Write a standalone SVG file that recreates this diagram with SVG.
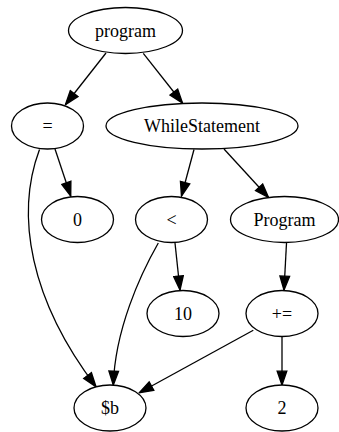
<svg xmlns="http://www.w3.org/2000/svg" width="339" height="432" viewBox="0 0 339 432">
<style>
.node ellipse{fill:#fff;stroke:#000;stroke-width:1.3}
.node text{font-family:"Liberation Serif","Times New Roman",serif;font-size:18px;fill:#000;text-anchor:middle}
.edge{fill:none;stroke:#000;stroke-width:1.3;marker-end:url(#arr)}
</style>
<defs>
<marker id="arr" markerUnits="userSpaceOnUse" markerWidth="16" markerHeight="12" viewBox="-1 -1 15 11" refX="13" refY="4.5" orient="auto">
<path d="M0,0 L13,4.5 L0,9 Z" fill="#000" stroke="#000" stroke-width="1.3" stroke-linejoin="miter"/>
</marker>
</defs>
<rect width="339" height="432" fill="#fff"/>
<g id="edges">
<path class="edge" d="M106,53 L65.5,104.5"/>
<path class="edge" d="M143.3,53.3 L182.5,103"/>
<path class="edge" d="M55,149 L70.7,196"/>
<path class="edge" d="M39.5,149.5 C15,215 30,300 96,386.7"/>
<path class="edge" d="M194,149.5 L181.5,196"/>
<path class="edge" d="M224,149 L268.5,197.5"/>
<path class="edge" d="M158.3,243 C140,275 115,330 113.3,385"/>
<path class="edge" d="M175,243 L180,290"/>
<path class="edge" d="M286.5,243 L284,290"/>
<path class="edge" d="M253.3,330.3 L139.3,392.7"/>
<path class="edge" d="M282,337 L282,385"/>
</g>
<g id="n_program" class="node"><ellipse cx="125.5" cy="30.5" rx="57" ry="23"/><text x="125.5" y="36.5">program</text></g>
<g id="n_assign" class="node"><ellipse cx="47.5" cy="126" rx="36" ry="23"/><text x="47.5" y="132">=</text></g>
<g id="n_while" class="node"><ellipse cx="202" cy="126" rx="96" ry="23"/><text x="202" y="132">WhileStatement</text></g>
<g id="n_zero" class="node"><ellipse cx="77.5" cy="219.5" rx="36" ry="23"/><text x="77.5" y="225.5">0</text></g>
<g id="n_lt" class="node"><ellipse cx="171.5" cy="219.5" rx="36" ry="23"/><text x="171.5" y="225.5">&lt;</text></g>
<g id="n_Program" class="node"><ellipse cx="284.5" cy="219.5" rx="54" ry="23"/><text x="284.5" y="225.5">Program</text></g>
<g id="n_ten" class="node"><ellipse cx="183" cy="313.5" rx="36" ry="23"/><text x="183" y="319.5">10</text></g>
<g id="n_pluseq" class="node"><ellipse cx="282" cy="313.5" rx="36" ry="23"/><text x="282" y="319.5">+=</text></g>
<g id="n_b" class="node"><ellipse cx="110" cy="408" rx="36" ry="23"/><text x="110" y="414">$b</text></g>
<g id="n_two" class="node"><ellipse cx="282" cy="408" rx="36" ry="23"/><text x="282" y="414">2</text></g>
</svg>
